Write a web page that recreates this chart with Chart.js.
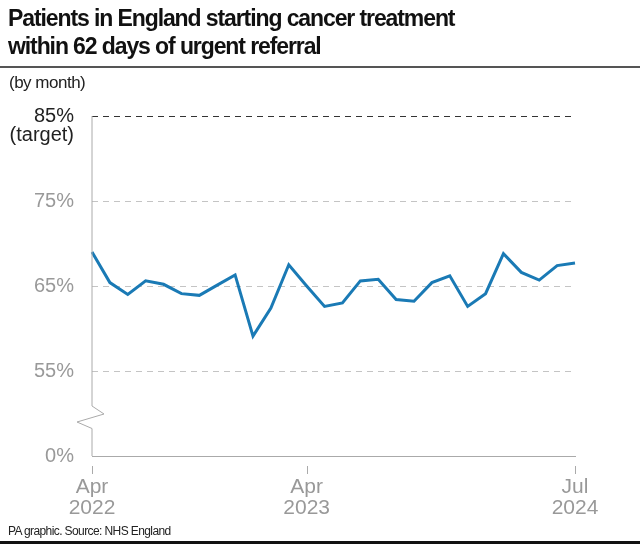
<!DOCTYPE html>
<html lang="en">
<head>
    <meta charset="UTF-8">
    <title>Patients in England starting cancer treatment within 62 days</title>
    <script src="https://cdn.jsdelivr.net/npm/chart.js"></script>
    <style>
        body {
            margin: 0;
            background: #fff;
            font-family: "Liberation Sans", Arial, sans-serif;
        }
        #wrap {
            position: relative;
            width: 640px;
            height: 544px;
            overflow: hidden;
        }
        #title {
            position: absolute;
            left: 8px;
            top: 4px;
            font-size: 23px;
            font-weight: bold;
            line-height: 28px;
            letter-spacing: -1.1px;
            color: #111;
        }
        #rule {
            position: absolute;
            left: 0;
            top: 66px;
            width: 640px;
            height: 2px;
            background: #555;
        }
        #sub {
            position: absolute;
            left: 9px;
            top: 73px;
            font-size: 17px;
            letter-spacing: -0.5px;
            color: #222;
        }
        #foot {
            position: absolute;
            left: 8px;
            top: 524px;
            font-size: 12px;
            letter-spacing: -0.6px;
            color: #222;
        }
        #bar {
            position: absolute;
            left: 0;
            top: 541px;
            width: 640px;
            height: 3px;
            background: #111;
        }
        canvas {
            position: absolute;
            left: 0;
            top: 0;
        }
    </style>
</head>
<body>
<div id="wrap">
    <canvas id="chart" width="640" height="544"></canvas>
    <div id="title">Patients in England starting cancer treatment<br>within 62 days of urgent referral</div>
    <div id="rule"></div>
    <div id="sub">(by month)</div>
    <div id="foot">PA graphic. Source: NHS England</div>
    <div id="bar"></div>
</div>

<script>
    // months Apr 2022 .. Jul 2024
    const months = [
        'Apr 2022', 'May 2022', 'Jun 2022', 'Jul 2022', 'Aug 2022', 'Sep 2022', 'Oct 2022', 'Nov 2022', 'Dec 2022',
        'Jan 2023', 'Feb 2023', 'Mar 2023', 'Apr 2023', 'May 2023', 'Jun 2023', 'Jul 2023', 'Aug 2023', 'Sep 2023',
        'Oct 2023', 'Nov 2023', 'Dec 2023', 'Jan 2024', 'Feb 2024', 'Mar 2024', 'Apr 2024', 'May 2024', 'Jun 2024', 'Jul 2024'
    ];
    const percent = [
        69.0, 65.4, 64.0, 65.6, 65.2, 64.1, 63.9, 65.1, 66.3, 59.1, 62.4, 67.5, 65.0, 62.6,
        63.0, 65.6, 65.8, 63.4, 63.2, 65.4, 66.2, 62.6, 64.1, 68.8, 66.6, 65.7, 67.4, 67.7
    ];
    const xTickLabels = { 0: ['Apr', '2022'], 12: ['Apr', '2023'], 27: ['Jul', '2024'] };
    // axis is broken: bottom of scale (45) is shown as 0%
    const yTicks = [45, 55, 65, 75, 85];
    const yTickText = { 45: '0%', 55: '55%', 65: '65%', 75: '75%', 85: '85%' };
    const targetValue = 85;

    const axisColor = '#aaaaaa';
    const labelGrey = '#999999';

    const decorations = {
        id: 'decorations',
        afterDraw(chart) {
            const ctx = chart.ctx;
            const area = chart.chartArea;
            const x = chart.scales.x;
            const y = chart.scales.y;
            const left = area.left;
            const yb = y.getPixelForValue(50);

            ctx.save();
            // vertical axis with break mark
            ctx.strokeStyle = axisColor;
            ctx.lineWidth = 1;
            ctx.beginPath();
            ctx.moveTo(left, area.top);
            ctx.lineTo(left, yb - 7.5);
            ctx.lineTo(left + 12, yb + 0.5);
            ctx.lineTo(left - 15, yb + 8.5);
            ctx.lineTo(left, yb + 15);
            ctx.lineTo(left, area.bottom);
            ctx.stroke();

            // tick marks below the x axis
            ctx.beginPath();
            Object.keys(xTickLabels).forEach(i => {
                const px = Math.round(x.getPixelForValue(Number(i))) + 0.5;
                ctx.moveTo(px, area.bottom + 10);
                ctx.lineTo(px, area.bottom + 18);
            });
            ctx.stroke();

            // "(target)" under the 85% label
            ctx.fillStyle = '#222';
            ctx.font = '20px "Liberation Sans", Arial, sans-serif';
            ctx.textAlign = 'right';
            ctx.textBaseline = 'middle';
            ctx.fillText('(target)', left - 18, y.getPixelForValue(targetValue) + 19);
            ctx.restore();
        }
    };

    new Chart(document.getElementById('chart'), {
        type: 'line',
        data: {
            labels: months,
            datasets: [{
                data: percent,
                borderColor: '#1a7ab5',
                borderWidth: 3,
                pointRadius: 0,
                tension: 0,
                fill: false
            }]
        },
        options: {
            responsive: false,
            animation: false,
            events: [],
            layout: { padding: { top: 116, left: 0, right: 65, bottom: 0 } },
            plugins: { legend: { display: false }, tooltip: { enabled: false } },
            scales: {
                x: {
                    type: 'category',
                    offset: false,
                    grid: { display: false, drawTicks: false },
                    border: { display: true, color: axisColor, width: 1 },
                    ticks: {
                        autoSkip: false,
                        maxRotation: 0,
                        padding: 21,
                        color: labelGrey,
                        font: { family: '"Liberation Sans", Arial, sans-serif', size: 21, lineHeight: 1.0 },
                        callback: (v, i) => xTickLabels[i] || ''
                    },
                    afterFit: s => { s.height = 88; }
                },
                y: {
                    min: 45,
                    max: 85,
                    afterBuildTicks: s => { s.ticks = yTicks.map(v => ({ value: v })); },
                    grid: {
                        drawTicks: false,
                        color: c => c.tick.value === targetValue ? '#333333' : (c.tick.value === 45 ? 'rgba(0,0,0,0)' : '#c4c4c4'),
                        lineWidth: 1
                    },
                    border: { display: false, dash: [6, 5] },
                    ticks: {
                        padding: 18,
                        color: c => c.tick.value === targetValue ? '#222222' : labelGrey,
                        font: { family: '"Liberation Sans", Arial, sans-serif', size: 20 },
                        callback: v => yTickText[v]
                    },
                    afterFit: s => { s.width = 92; }
                }
            }
        },
        plugins: [decorations]
    });
</script>
</body>
</html>
